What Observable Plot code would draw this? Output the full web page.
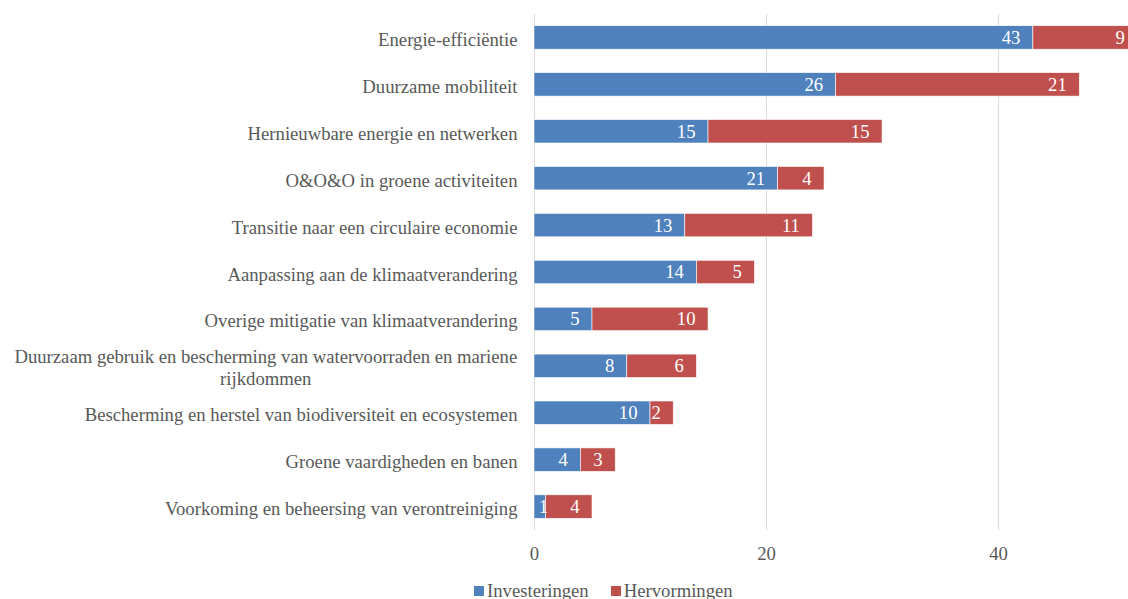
<!DOCTYPE html>
<html>
<head>
<meta charset="utf-8">
<script src="https://cdn.jsdelivr.net/npm/d3@7"></script>
<script src="https://cdn.jsdelivr.net/npm/@observablehq/plot@0.6"></script>
<style>
  html, body { margin: 0; padding: 0; background: #fff; }
  body { width: 1128px; height: 599px; overflow: hidden; position: relative; font-family: "Liberation Serif", "Times New Roman", Times, serif; }
  #legend { position: absolute; left: 474px; top: 580px; display: flex; align-items: center; font-size: 18.7px; color: #595959; line-height: 22px; white-space: nowrap; }
  #legend .sw { display: inline-block; width: 10px; height: 10px; margin-right: 3px; }
  #legend .item { display: flex; align-items: center; margin-right: 22px; }
</style>
</head>
<body>
<div id="chart"></div>
<div id="legend"></div>
<script>
const categories = [
  "Energie-efficiëntie",
  "Duurzame mobiliteit",
  "Hernieuwbare energie en netwerken",
  "O&O&O in groene activiteiten",
  "Transitie naar een circulaire economie",
  "Aanpassing aan de klimaatverandering",
  "Overige mitigatie van klimaatverandering",
  "Duurzaam gebruik en bescherming van watervoorraden en mariene\nrijkdommen",
  "Bescherming en herstel van biodiversiteit en ecosystemen",
  "Groene vaardigheden en banen",
  "Voorkoming en beheersing van verontreiniging"
];
const investeringen = [43, 26, 15, 21, 13, 14, 5, 8, 10, 4, 1];
const hervormingen  = [9, 21, 15, 4, 11, 5, 10, 6, 2, 3, 4];
const seriesNames = ["Investeringen", "Hervormingen"];
const seriesColors = ["#4F81BD", "#C0504D"];
const xTicks = [0, 20, 40];

const rows = [];
categories.forEach((c, i) => {
  let acc = 0;
  [investeringen[i], hervormingen[i]].forEach((v, s) => {
    rows.push({cat: c, series: seriesNames[s], value: v, x1: acc, x2: acc + v, mid: acc + v / 2});
    acc += v;
  });
});
const wide = rows.filter(d => d.value >= 2);
const narrow = rows.filter(d => d.value < 2);

const FONT = "'Liberation Serif', 'Times New Roman', Times, serif";
const FS = 18.7;

const chart = Plot.plot({
  width: 1128,
  height: 575,
  marginLeft: 534,
  marginRight: 0,
  marginTop: 14,
  marginBottom: 45,
  style: { fontFamily: FONT, fontSize: FS + "px", color: "#595959", background: "#fff" },
  x: { domain: [0, 51.2], range: [534, 1128] },
  y: { domain: categories, paddingInner: 0.5, paddingOuter: 0.25, round: false, axis: null },
  color: { domain: seriesNames, range: seriesColors },
  marks: [
    Plot.ruleX(xTicks, { stroke: "#d9d9d9", strokeWidth: 1 }),
    Plot.barX(rows, { y: "cat", x1: "x1", x2: "x2", fill: "series", stroke: "#fff", strokeWidth: 0.6, clip: true }),
    Plot.text(wide, { y: "cat", x: "x2", text: d => String(d.value), textAnchor: "end", dx: -13, fill: "#fff", fontSize: FS, fontFamily: FONT, clip: true }),
    Plot.text(narrow, { y: "cat", x: "mid", text: d => String(d.value), textAnchor: "middle", dx: 3, fill: "#fff", fontSize: FS, fontFamily: FONT }),
    Plot.axisX(xTicks, { tickSize: 0, tickPadding: 16, fontSize: FS, fontFamily: FONT, fill: "#595959", label: null }),
    Plot.axisY({ tickSize: 0, tickPadding: 17, fontSize: FS, fontFamily: FONT, fill: "#595959", label: null, lineHeight: 1.18, dy: 1 })
  ]
});
document.getElementById("chart").appendChild(chart);

// center wrapped (multi-line) y tick labels, as in the original
chart.querySelectorAll("g[aria-label='y-axis tick label'] text").forEach(t => {
  const spans = t.querySelectorAll("tspan");
  if (spans.length > 1) {
    const w = t.getBBox().width;
    t.setAttribute("text-anchor", "middle");
    const xs = parseFloat(t.getAttribute("x") || 0);
    spans.forEach(s => s.setAttribute("x", xs - w / 2));
  }
});

const legend = document.getElementById("legend");
seriesNames.forEach((n, i) => {
  const item = document.createElement("span");
  item.className = "item";
  const sw = document.createElement("span");
  sw.className = "sw";
  sw.style.background = seriesColors[i];
  item.appendChild(sw);
  item.appendChild(document.createTextNode(n));
  legend.appendChild(item);
});
</script>
</body>
</html>
